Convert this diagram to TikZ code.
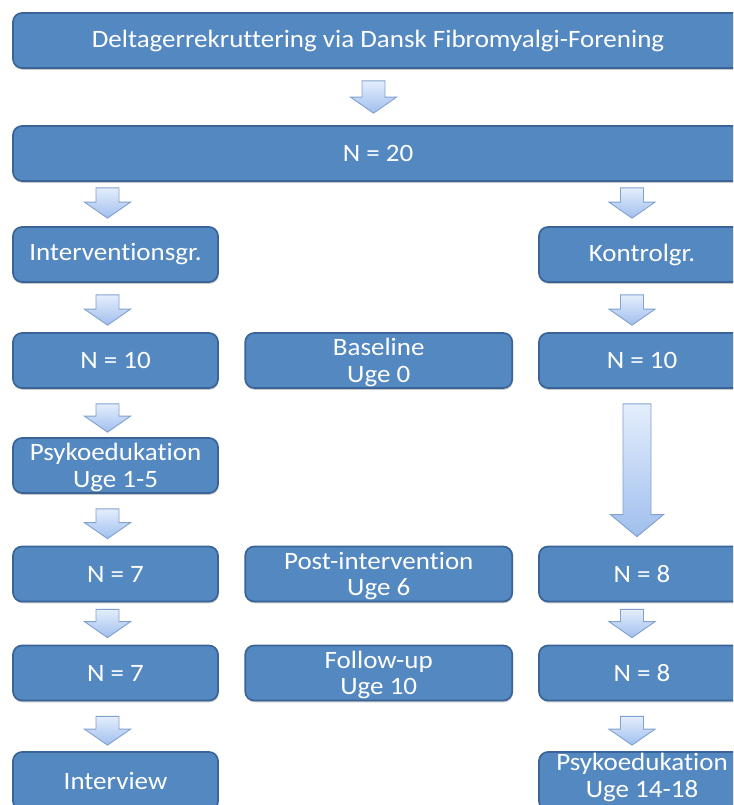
\documentclass[tikz,border=0pt]{standalone}
\usepackage{fontspec}
\setmainfont{Carlito}[FakeStretch=1.08, Ligatures={NoCommon}]
\usetikzlibrary{calc,shadows}
\definecolor{boxfill}{RGB}{84,136,193}
\definecolor{boxdraw}{RGB}{58,100,152}
\definecolor{arrtop}{RGB}{228,238,252}
\definecolor{arrbot}{RGB}{160,191,238}
\definecolor{arrdraw}{RGB}{130,160,208}
\newcommand\arrsw{11.5pt}
\newcommand\arrhw{23pt}
\newcommand\arrhh{16pt}
\newcommand\lowstrut{\rule{0pt}{21.5pt}}
\newcommand\highstrut{\rule[-11pt]{0pt}{0pt}}
\newcommand\blockarrow[5]{%
  \path[blockarr] let \p1=(#1.south), \p2=(#2.north) in
    ({\x1+(#3)-\arrsw},{\y1-(#4)}) -- ({\x1+(#3)+\arrsw},{\y1-(#4)})
    -- ({\x1+(#3)+\arrsw},{\y2+(#5)+\arrhh}) -- ({\x1+(#3)+\arrhw},{\y2+(#5)+\arrhh})
    -- ({\x1+(#3)},{\y2+(#5)}) -- ({\x1+(#3)-\arrhw},{\y2+(#5)+\arrhh})
    -- ({\x1+(#3)-\arrsw},{\y2+(#5)+\arrhh}) -- cycle;}
\begin{document}
\begin{tikzpicture}[x=1pt,y=-1pt,
  stagebox/.style={draw=boxdraw, line width=1.7pt, fill=boxfill, rounded corners=9pt,
    text=white, font=\fontsize{25}{26.5}\selectfont, align=center, inner sep=0pt,
    minimum height=55pt,
    drop shadow={shadow xshift=0.6pt, shadow yshift=-1.8pt, opacity=0.22, fill=black}},
  leftbox/.style={stagebox, minimum width=205pt},
  midbox/.style={stagebox, minimum width=267pt},
  rightbox/.style={stagebox, minimum width=206pt},
  widebox/.style={stagebox, minimum width=730pt},
  blockarr/.style={draw=arrdraw, line width=0.9pt, top color=arrtop, bottom color=arrbot, line join=miter}
]
\useasboundingbox (0,0) rectangle (733,805);
\clip (0,0) rectangle (733,805);
\fill[white] (0,0) rectangle (733,805);

\node[widebox] (rec) at (378,40.5) {Deltagerrekruttering via Dansk Fibromyalgi-Forening};
\node[widebox] (n20) at (378,153.5) {N = 20};

\node[leftbox] (ig) at (115.5,254.5) {Interventionsgr.};
\node[rightbox] (kg) at (642,254.5) {Kontrolgr.};

\node[leftbox] (in10) at (115.5,360.5) {N = 10};
\node[midbox] (base) at (378.75,360.5) {\lowstrut Baseline\\Uge 0};
\node[rightbox] (kn10) at (642,360.5) {N = 10};

\node[leftbox] (psy1) at (115.5,465.5) {\lowstrut Psykoedukation\\Uge 1-5};

\node[leftbox] (in7a) at (115.5,574) {N = 7};
\node[midbox] (post) at (378.75,574) {\lowstrut Post-intervention\\Uge 6};
\node[rightbox] (kn8a) at (642,574) {N = 8};

\node[leftbox] (in7b) at (115.5,673) {N = 7};
\node[midbox] (fol) at (378.75,673) {\lowstrut Follow-up\\Uge 10};
\node[rightbox] (kn8b) at (642,673) {N = 8};

\node[leftbox, minimum height=58pt] (intv) at (115.5,781) {Interview};
\node[rightbox, minimum height=58pt] (psy2) at (642,781) {Psykoedukation\\Uge 14-18\highstrut};

\blockarrow{rec}{n20}{-4.5pt}{12pt}{12pt}
\blockarrow{n20}{ig}{-270.5pt}{6pt}{8pt}
\blockarrow{n20}{kg}{254pt}{6pt}{8pt}
\blockarrow{ig}{in10}{-8pt}{12pt}{7pt}
\blockarrow{kg}{kn10}{-10pt}{12pt}{7pt}
\blockarrow{in10}{psy1}{-8pt}{15pt}{5pt}
\blockarrow{psy1}{in7a}{-8pt}{15pt}{7pt}
\blockarrow{in7a}{in7b}{-8pt}{7pt}{7pt}
\blockarrow{kn8a}{kn8b}{-10pt}{7pt}{7pt}
\blockarrow{in7b}{intv}{-8pt}{15pt}{6pt}
\blockarrow{kn8b}{psy2}{-10pt}{15pt}{6pt}
\begingroup
\renewcommand\arrsw{14pt}\renewcommand\arrhw{26.5pt}\renewcommand\arrhh{22pt}
\blockarrow{kn10}{kn8a}{-5pt}{15pt}{9pt}
\endgroup
\end{tikzpicture}
\end{document}
